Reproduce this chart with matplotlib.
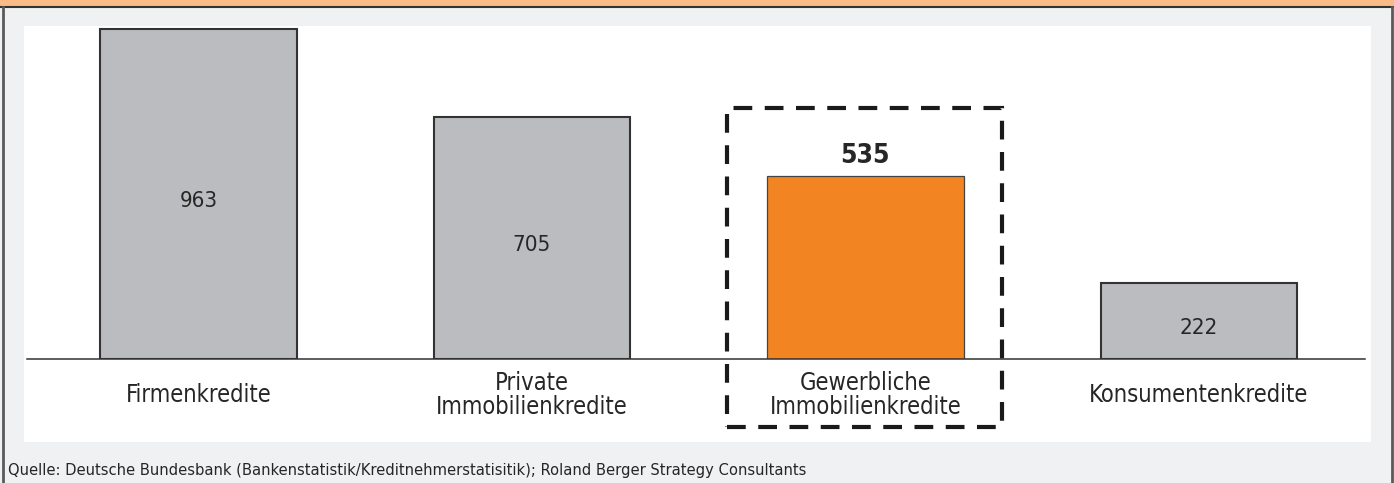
import matplotlib
matplotlib.use("Agg")
import matplotlib.pyplot as plt
from matplotlib.patches import Rectangle
from matplotlib import font_manager

# data
categories = ["Firmenkredite", "Private\nImmobilienkredite",
              "Gewerbliche\nImmobilienkredite", "Konsumentenkredite"]
values = [963, 705, 535, 222]
highlight = 2
source = ("Quelle: Deutsche Bundesbank (Bankenstatistik/Kreditnehmerstatisitik); "
          "Roland Berger Strategy Consultants")

# condensed face if available
condensed = any("Condensed" in f.fname for f in font_manager.fontManager.ttflist
                if f.name == "DejaVu Sans")
plt.rcParams["font.family"] = ["DejaVu Sans"]
if condensed:
    plt.rcParams["font.stretch"] = "condensed"

W, H = 1394, 483
fig = plt.figure(figsize=(W / 100, H / 100), dpi=100)
fig.patch.set_facecolor("#F0F1F3")

# frame: orange band, borders, white panel
fig.patches.append(Rectangle((0, 1 - 6 / H), 1, 6 / H, transform=fig.transFigure,
                             facecolor="#FBBB86", edgecolor="none", zorder=-5))
fig.lines.append(plt.Line2D([0, 1], [1 - 7 / H] * 2, transform=fig.transFigure,
                            color="#333333", lw=1.5))
fig.lines.append(plt.Line2D([2.5 / W] * 2, [0, 1 - 7 / H], transform=fig.transFigure,
                            color="#5a5a5a", lw=2))
fig.lines.append(plt.Line2D([1 - 2 / W] * 2, [0, 1 - 7 / H], transform=fig.transFigure,
                            color="#5a5a5a", lw=2))
fig.patches.append(Rectangle((24 / W, 1 - 442 / H), (1371 - 24) / W, (442 - 26) / H,
                             transform=fig.transFigure, facecolor="white",
                             edgecolor="none", zorder=-5))

ax = fig.add_axes([27 / W, 1 - 359 / H, (1365 - 27) / W, (359 - 26) / H])
ax.set_facecolor("none")
x = list(range(len(values)))
colors = ["#F28522" if i == highlight else "#BBBCC0" for i in x]
edges = ["#333333" if i != highlight else "#444444" for i in x]
lws = [1.5 if i != highlight else 0.9 for i in x]
ax.bar(x, values, width=0.59, color=colors, edgecolor=edges, linewidth=lws, zorder=2)
ax.set_xlim(-0.514, 3.498)
ax.set_ylim(0, 972)

for s in ["top", "left", "right"]:
    ax.spines[s].set_visible(False)
ax.spines["bottom"].set_color("#333333")
ax.spines["bottom"].set_linewidth(1.1)
ax.set_xticks([])
ax.set_yticks([])

for i, (c, v) in enumerate(zip(categories, values)):
    ax.text(i, -106, c, ha="center", va="center", fontsize=17, color="#262626",
            linespacing=1.0)
    if i == highlight:
        ax.text(i, v + 20, str(v), ha="center", va="bottom", fontsize=19,
                fontweight="bold", color="#262626")
    else:
        ax.text(i, v / 2 - 20, str(v), ha="center", va="center", fontsize=16,
                color="#262626")

# dashed highlight box
box = Rectangle((highlight - 0.415, -198), 0.825, 930, fill=False,
                edgecolor="#1a1a1a", lw=3, linestyle=(0, (4.5, 3)),
                clip_on=False, zorder=3)
ax.add_patch(box)

fig.text(8 / W, 1 - 470 / H, source, ha="left", va="center", fontsize=11.8,
         color="#262626")

fig.savefig("out.png", dpi=100, facecolor=fig.get_facecolor())
